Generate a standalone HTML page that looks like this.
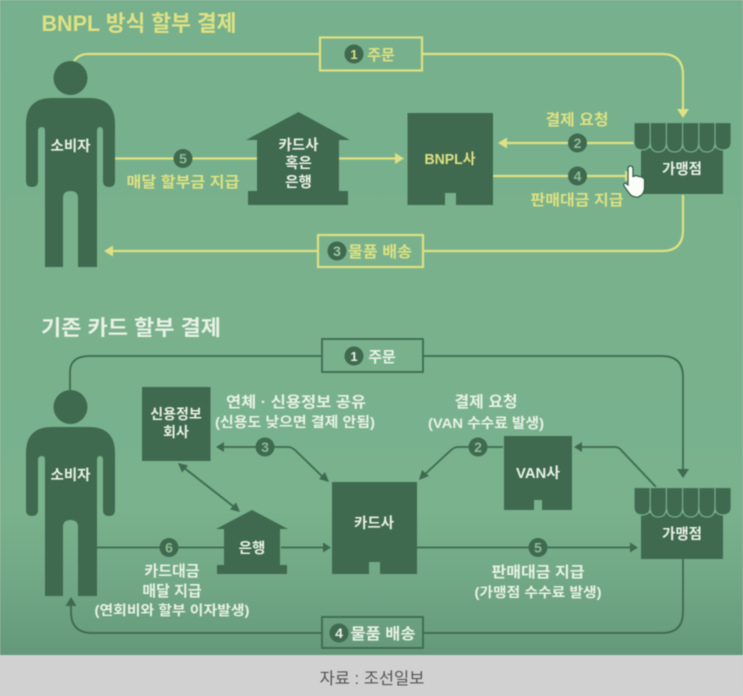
<!DOCTYPE html>
<html lang="ko"><head><meta charset="utf-8">
<style>
html,body{margin:0;padding:0;width:743px;height:696px;overflow:hidden;background:#d0d0d0}
svg{display:block;filter:blur(0.55px)}
text{font-family:"Liberation Sans","Noto Sans CJK KR",sans-serif;font-weight:700;text-anchor:middle}
.y{fill:#dde183}.w{fill:#e8f1e4}.n{font-size:14.5px}
</style></head><body>
<svg width="743" height="696" viewBox="0 0 743 696" xmlns="http://www.w3.org/2000/svg">
<defs>
<linearGradient id="bg" x1="0" y1="0" x2="0" y2="1">
<stop offset="0" stop-color="#77b08c"/><stop offset=".78" stop-color="#79b28d"/><stop offset=".9" stop-color="#70a684"/><stop offset="1" stop-color="#64987a"/>
</linearGradient>
<g id="person" fill="#3f6a50">
<circle cx="70.500" cy="78" r="17"/>
<path d="M52 98H89Q115 98 115 124V181Q115 187 109 187Q103 187 103 181V131Q103 127 100 127Q97 127 97 131V267H78V198Q78 191 70.500 191Q63 191 63 198V267H45V131Q45 127 42 127Q38 127 38 131V181Q38 187 32 187Q26 187 26 181V124Q26 98 52 98Z"/>
</g>
<g id="shop">
<path fill="#3f6a50" d="M641 148H723V194H641Z"/>
<path fill="#3f6a50" stroke="#77b08c" stroke-width="1.200" d="M634 122.500H650.200V142Q650.200 150 642 150Q634 150 634 142Z M650.200 122.500H666.400V142Q666.400 152 658.300 152Q650.200 152 650.200 142Z M666.400 122.500H682.600V142Q682.600 152 674.500 152Q666.400 152 666.400 142Z M682.600 122.500H698.800V142Q698.800 152 690.700 152Q682.600 152 682.600 142Z M698.800 122.500H715V142Q715 152 706.900 152Q698.800 152 698.800 142Z M715 122.500H731.200V142Q731.200 150 723 150Q715 150 715 142Z"/>
</g>
</defs>
<rect width="743" height="655" fill="url(#bg)"/>
<rect y="655" width="743" height="41" fill="#d1d1d1"/>

<text x="139" y="31" class="y" style="font-size:22px" textLength="195" lengthAdjust="spacingAndGlyphs">BNPL 방식 할부 결제</text>

<use href="#person"/>
<text x="70.500" y="151" class="w n">소비자</text>

<g fill="none" stroke="#dde183" stroke-width="2.200">
<path d="M74 61Q79 54 88 54H320"/>
<path d="M422 54H662Q683 54 683 75V112"/>
<path d="M683 195V230Q683 251 662 251H423"/>
<path d="M318 251H112"/>
<path d="M115 158.500H257M339 158.500H396"/>
<path d="M634 143H503"/>
<path d="M493 176H626"/>
<rect x="320" y="37.500" width="102" height="33"/>
<rect x="318" y="235" width="105" height="32"/>
</g>
<g fill="#dde183">
<path d="M683 118L677 109H689Z"/><path d="M104 251L113 245.500V256.500Z"/>
<path d="M404 158.500L395 153V164Z"/><path d="M498 143L507 137.500V148.500Z"/><path d="M634 176L625 170.500V181.500Z"/>
</g>
<g fill="#3f6a50">
<circle cx="354" cy="54" r="9.500"/><circle cx="337" cy="251" r="9.500"/><circle cx="183" cy="158.500" r="9.500"/>
<circle cx="577.500" cy="143" r="9.500"/><circle cx="577.500" cy="176" r="9.500"/>
</g>
<text x="354" y="59" fill="#dde183" style="font-size:13px">1</text>
<text x="337" y="256" fill="#9cc99f" style="font-size:14px">3</text>
<text x="183" y="163.500" fill="#8ebb95" style="font-size:14px">5</text>
<text x="577.500" y="148" fill="#8ebb95" style="font-size:14px">2</text>
<text x="577.500" y="181" fill="#8ebb95" style="font-size:14px">4</text>
<text x="381" y="60" class="y" style="font-size:15px">주문</text>
<text x="380" y="257" class="y" style="font-size:15.500px" textLength="64" lengthAdjust="spacingAndGlyphs">물품 배송</text>
<text x="183" y="187" class="y" style="font-size:15px" textLength="113" lengthAdjust="spacingAndGlyphs">매달 할부금 지급</text>
<text x="577" y="125" class="y" style="font-size:15.500px" textLength="63" lengthAdjust="spacingAndGlyphs">결제 요청</text>
<text x="577" y="205" class="y" style="font-size:15px" textLength="93" lengthAdjust="spacingAndGlyphs">판매대금 지급</text>

<path fill="#3f6a50" d="M298.500 112L350 140H339V191H348V205H248V191H257V140H246Z"/>
<text x="298.500" y="150" class="w n">카드사</text><text x="298.500" y="168" class="w n">혹은</text><text x="298.500" y="187" class="w n">은행</text>

<path fill="#3f6a50" d="M407.500 113H493V205H456V193H445V205H407.500Z"/>
<text x="450" y="164" class="y n" textLength="51" lengthAdjust="spacingAndGlyphs">BNPL사</text>

<use href="#shop"/>
<text x="682" y="174" class="w n">가맹점</text>

<path fill="#fbfdf8" stroke="#2f5a43" stroke-width="1.200" d="M628 169Q628 166 630.500 166Q633 166 633 169V176.500L636 175.500L639 176.500L642 177L644.500 179V188Q644 195 638 197Q632 197.500 629 193L624 186Q623 183.500 625.500 183L628 185Z"/>

<text x="131" y="335" class="w" style="font-size:21px" textLength="180" lengthAdjust="spacingAndGlyphs">기존 카드 할부 결제</text>

<use href="#person" y="329"/>
<text x="70.500" y="480" class="w n">소비자</text>

<g fill="none" stroke="#3f6a50" stroke-width="1.800">
<path d="M70 390V372Q70 356 90 356H322"/>
<path d="M423 356H662Q683 356 683 377V472"/>
<path d="M683 559V612Q683 633 662 633H423"/>
<path d="M322 633H92Q71 633 71 612V604"/>
<path d="M97 547.500H224M281 547.500H324"/>
<path d="M417 547.500H631"/>
<path d="M222 447H288Q292 447 296 451L326 480"/>
<path d="M183 467L238 510"/>
<path d="M503 447H458Q454 447 450 451L423 476"/>
<path d="M656 487L622 451Q619 447 615 447H580"/>
<rect x="322" y="339" width="101" height="33"/>
<rect x="322" y="617" width="101" height="31"/>
</g>
<g fill="#3f6a50">
<path d="M683 478L677 469H689Z"/><path d="M71 597L65.500 606H76.500Z"/>
<path d="M331 547.500L323 542.500V552.500Z"/><path d="M638 547.500L630 542.500V552.500Z"/>
<path d="M216 447L224 442V452Z"/><path d="M329 482L319 479L325 472Z"/>
<path d="M178 463L188 465.500L182 472.500Z"/><path d="M240 512L230 509.500L236 502.500Z"/>
<path d="M419 480L422 470L429 476Z"/><path d="M574 447L582 442V452Z"/>
<circle cx="354" cy="356" r="9.500"/><circle cx="339" cy="633" r="9.500"/><circle cx="169" cy="547.500" r="9.500"/>
<circle cx="265" cy="447" r="9.500"/><circle cx="478" cy="447" r="9.500"/><circle cx="538" cy="547.500" r="9.500"/>
</g>
<text x="354" y="361" class="w" style="font-size:13px">1</text>
<text x="339" y="638" class="w" style="font-size:14px">4</text>
<text x="169" y="552.500" fill="#8ebb95" style="font-size:14px">6</text>
<text x="265" y="452" fill="#8ebb95" style="font-size:14px">3</text>
<text x="478" y="452" fill="#8ebb95" style="font-size:14px">2</text>
<text x="538" y="552.500" fill="#8ebb95" style="font-size:14px">5</text>

<text x="382" y="362" class="w" style="font-size:15px">주문</text>
<text x="383" y="639" class="w" style="font-size:15.500px" textLength="65" lengthAdjust="spacingAndGlyphs">물품 배송</text>

<rect x="142" y="387" width="68.500" height="74" fill="#3f6a50"/>
<text x="176" y="419" class="w" style="font-size:14px">신용정보</text><text x="176" y="437" class="w" style="font-size:14px">회사</text>
<text x="296" y="407" class="w" style="font-size:15px" textLength="140" lengthAdjust="spacingAndGlyphs">연체 · 신용정보 공유</text>
<text x="295" y="427" class="w" style="font-size:14px" textLength="160" lengthAdjust="spacingAndGlyphs">(신용도 낮으면 결제 안됨)</text>
<text x="486" y="407" class="w" style="font-size:15.500px" textLength="63" lengthAdjust="spacingAndGlyphs">결제 요청</text>
<text x="486" y="428" class="w" style="font-size:14px" textLength="116" lengthAdjust="spacingAndGlyphs">(VAN 수수료 발생)</text>

<path fill="#3f6a50" d="M252 510L288 529H280V565H287V574H217V565H224V529H216Z"/>
<text x="252" y="553" class="w n">은행</text>

<path fill="#3f6a50" d="M332 482H417V574H380V562H369V574H332Z"/>
<text x="374" y="528" class="w n">카드사</text>

<path fill="#3f6a50" d="M504 436H572V510H542V500H534V510H504Z"/>
<text x="538" y="478" class="w n" textLength="44" lengthAdjust="spacingAndGlyphs">VAN사</text>

<use href="#shop" y="365"/>
<text x="682" y="539" class="w n">가맹점</text>

<text x="172" y="576" class="w" style="font-size:15px">카드대금</text>
<text x="172" y="596" class="w" style="font-size:15px">매달 지급</text>
<text x="172" y="615" class="w" style="font-size:13.500px" textLength="155" lengthAdjust="spacingAndGlyphs">(연회비와 할부 이자발생)</text>
<text x="538" y="577" class="w" style="font-size:15px" textLength="93" lengthAdjust="spacingAndGlyphs">판매대금 지급</text>
<text x="538" y="597" class="w" style="font-size:13.500px" textLength="127" lengthAdjust="spacingAndGlyphs">(가맹점 수수료 발생)</text>

<text x="372" y="684" fill="#555" style="font-size:16.500px;font-weight:400">자료 : 조선일보</text>
</svg>
</body></html>
